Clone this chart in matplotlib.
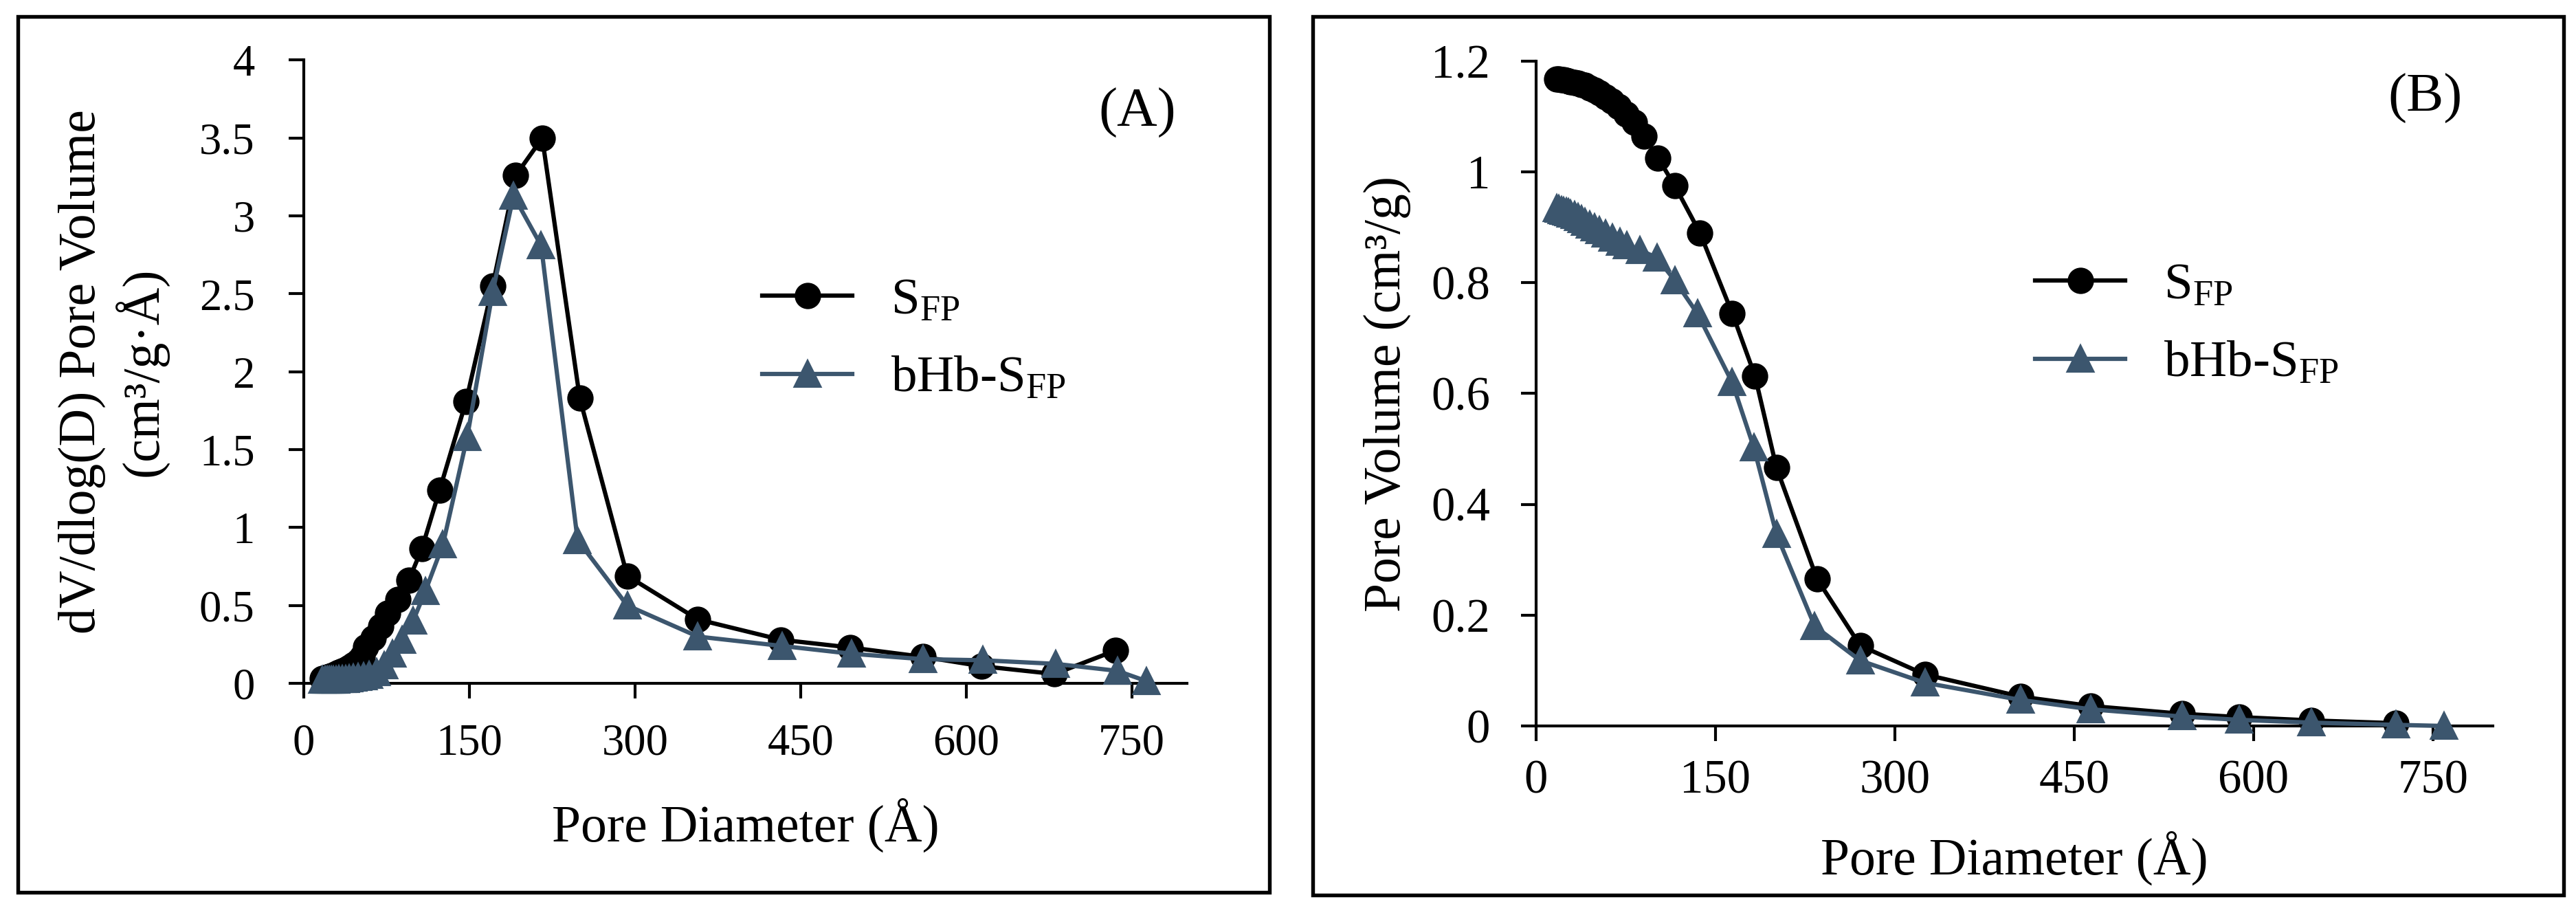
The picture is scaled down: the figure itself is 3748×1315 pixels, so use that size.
import matplotlib
matplotlib.use("Agg")
import matplotlib.pyplot as plt
import matplotlib.ticker as mticker
from matplotlib.patches import Rectangle

plt.rcParams['font.family'] = ['Liberation Serif', 'DejaVu Serif']
plt.rcParams['mathtext.fontset'] = 'custom'
plt.rcParams['mathtext.rm'] = 'Liberation Serif'

# --- panel A: dV/dlog(D) pore volume ---
a_sfp_x = [17, 19, 21, 23, 25, 27, 29, 32, 35, 38, 41, 45, 49, 53, 56, 63, 70, 76, 85,
           95, 107, 123, 147, 171, 192, 216, 250, 293, 357, 432, 495, 561, 614, 680, 735]
a_sfp_y = [0.03, 0.035, 0.04, 0.045, 0.05, 0.055, 0.06, 0.07, 0.08, 0.09, 0.10, 0.12, 0.14,
           0.17, 0.235, 0.29, 0.367, 0.45, 0.537, 0.66, 0.865, 1.24, 1.81, 2.55, 3.26, 3.50,
           1.83, 0.69, 0.41, 0.28, 0.23, 0.17, 0.11, 0.06, 0.21]

a_bhb_x = [17, 19, 21, 23, 25, 27, 29, 32, 35, 38, 41, 45, 49, 54, 59, 66, 73, 80, 89,
           99, 110, 126, 148, 171, 190, 215, 248, 293, 357, 433, 496, 561, 615, 681, 737, 763]
a_bhb_y = [0.02, 0.02, 0.02, 0.02, 0.02, 0.02, 0.022, 0.025, 0.025, 0.028, 0.03, 0.035,
           0.04, 0.045, 0.055, 0.072, 0.116, 0.19, 0.28, 0.40, 0.59, 0.89, 1.58, 2.51, 3.13,
           2.81, 0.92, 0.50, 0.30, 0.24, 0.19, 0.155, 0.148, 0.125, 0.08, 0.015]

# --- panel B: cumulative pore volume ---
b_sfp_x = [17, 19, 21, 23, 25, 27, 29, 32, 35, 38, 41, 45, 49, 53, 58, 63, 69, 75, 82,
           90, 102, 116, 137, 164, 183, 201, 235, 271, 325, 405, 464, 540, 588, 648, 719]
b_sfp_y = [1.168, 1.168, 1.167, 1.166, 1.165, 1.164, 1.163, 1.161, 1.16, 1.158, 1.156,
           1.152, 1.148, 1.143, 1.136, 1.128, 1.118, 1.105, 1.09, 1.065, 1.025, 0.975, 0.89,
           0.745, 0.632, 0.466, 0.265, 0.145, 0.093, 0.053, 0.036, 0.022, 0.016, 0.01, 0.005]

b_bhb_x = [17, 19, 21, 23, 25, 27, 29, 32, 35, 38, 41, 45, 49, 53, 58, 64, 70, 76, 87,
           101, 116, 135, 164, 182, 201, 233, 271, 325, 405, 464, 540, 588, 648, 719, 759]
b_bhb_y = [0.935, 0.933, 0.931, 0.929, 0.928, 0.927, 0.925, 0.922, 0.918, 0.914, 0.91,
           0.905, 0.9, 0.895, 0.888, 0.881, 0.874, 0.868, 0.859, 0.845, 0.804, 0.744, 0.62,
           0.503, 0.346, 0.18, 0.118, 0.078, 0.047, 0.03, 0.017, 0.011, 0.006, 0.002, 0.0]

x_ticks = [0, 150, 300, 450, 600, 750]
a_y_ticks = [0, 0.5, 1, 1.5, 2, 2.5, 3, 3.5, 4]
b_y_ticks = [0, 0.2, 0.4, 0.6, 0.8, 1.0, 1.2]

BLUE = '#3c566e'
W, H = 3748, 1315
DPI = 300


def px_axes(left, top, right, bottom):
    # pixel box -> figure fraction
    return [left / W, 1 - bottom / H, (right - left) / W, (bottom - top) / H]


def style_axes(ax, ylim, yticks, tick_fs, xpad, ypad):
    ax.set_xlim(0, 800)
    ax.set_ylim(*ylim)
    ax.set_xticks(x_ticks)
    ax.set_yticks(yticks)
    ax.yaxis.set_major_formatter(mticker.FormatStrFormatter('%g'))
    for s in ['top', 'right']:
        ax.spines[s].set_visible(False)
    for s in ['left', 'bottom']:
        ax.spines[s].set_linewidth(1.0)
    ax.tick_params(direction='out', length=5.3, width=1.0, labelsize=tick_fs)
    ax.tick_params(axis='x', pad=xpad)
    ax.tick_params(axis='y', pad=ypad)


def draw_series(ax, sx, sy, bx, by):
    ax.plot(sx, sy, color='black', lw=1.5, marker='o', ms=8.2,
            label=r'$\mathregular{S_{FP}}$', clip_on=False, zorder=3)
    ax.plot(bx, by, color=BLUE, lw=1.5, marker='^', ms=8.6,
            label=r'$\mathregular{bHb\text{-}S_{FP}}$', clip_on=False, zorder=4)


fig = plt.figure(figsize=(W / DPI, H / DPI), dpi=DPI)

# outer frames
for box in [(26, 24, 1847, 1298), (1910, 24, 3730, 1302)]:
    l, t, r, b = box
    fig.patches.append(Rectangle((l / W, 1 - b / H), (r - l) / W, (b - t) / H,
                                 transform=fig.transFigure, fill=False,
                                 edgecolor='black', lw=1.3))

# panel A
axA = fig.add_axes(px_axes(442, 87.5, 1727, 994))
draw_series(axA, a_sfp_x, a_sfp_y, a_bhb_x, a_bhb_y)
style_axes(axA, (0, 4), a_y_ticks, 15.5, 8.5, 11.8)
axA.text(-0.2152, 0.5, 'dV/dlog(D) Pore Volume\n(cm³/g·Å)', transform=axA.transAxes,
         rotation=90, ha='center', va='center', fontsize=18.2, linespacing=1.2)
axA.text(0.5, (994 - 1201) / 906.5, 'Pore Diameter (Å)', transform=axA.transAxes,
         ha='center', va='center', fontsize=18.2)
axA.text((1655 - 442) / 1285, (994 - 164) / 906.5, '(A)', transform=axA.transAxes,
         ha='center', va='center', fontsize=19.5)
axA.legend(loc='center left', bbox_to_anchor=((1109 - 442) / 1285, (994 - 495) / 906.5),
           frameon=False, fontsize=18, handlelength=1.75, handletextpad=0.75,
           labelspacing=0.6, borderpad=0, borderaxespad=0)

# panel B
axB = fig.add_axes(px_axes(2235, 89, 3627, 1056))
draw_series(axB, b_sfp_x, b_sfp_y, b_bhb_x, b_bhb_y)
style_axes(axB, (0, 1.2), b_y_ticks, 16.5, 6.5, 10.8)
axB.text((2018 - 2235) / 1392, 0.5, 'Pore Volume (cm³/g)', transform=axB.transAxes,
         rotation=90, ha='center', va='center', fontsize=18.2)
axB.text(0.5, (1056 - 1249) / 967, 'Pore Diameter (Å)', transform=axB.transAxes,
         ha='center', va='center', fontsize=18.2)
axB.text((3529 - 2235) / 1392, (1056 - 143) / 967, '(B)', transform=axB.transAxes,
         ha='center', va='center', fontsize=19.5)
axB.legend(loc='center left', bbox_to_anchor=((2961 - 2235) / 1392, (1056 - 473) / 967),
           frameon=False, fontsize=18, handlelength=1.75, handletextpad=0.75,
           labelspacing=0.6, borderpad=0, borderaxespad=0)

fig.savefig('out.png', dpi=DPI)
